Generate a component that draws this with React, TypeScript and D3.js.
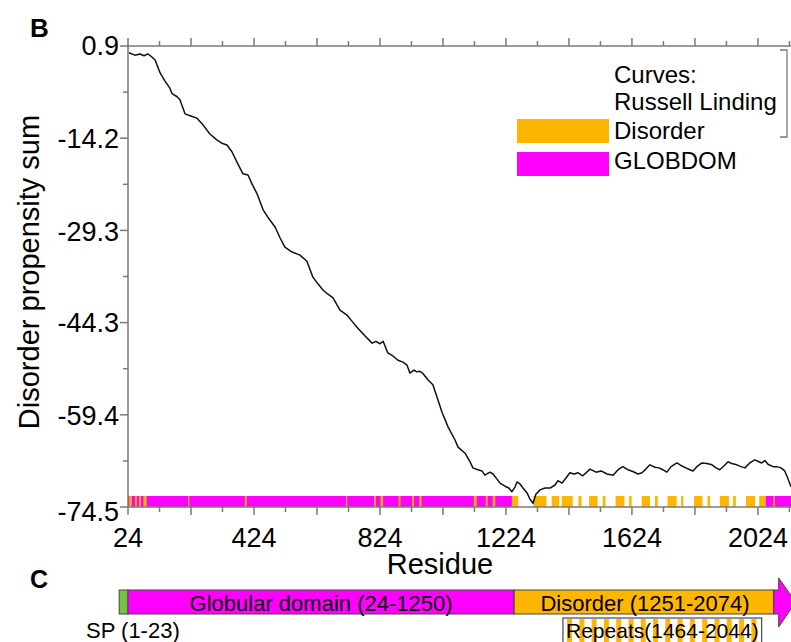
import * as d3 from "d3";
import React from "react";

// curve: residue -> Russell/Linding disorder propensity sum
const residues = [
  27, 46, 62, 75, 87, 100, 110, 126, 141, 157, 164, 180, 189, 205, 221, 243, 262, 284, 307, 322,
  338, 354, 370, 389, 405, 418, 434, 453, 468, 491, 507, 522, 545, 570, 592, 611, 627, 643, 659, 675,
  697, 719, 735, 751, 776, 799, 811, 824, 834, 849, 865, 881, 897, 910, 919, 932, 941, 951, 961, 976,
  992, 1005, 1021, 1040, 1062, 1072, 1094, 1110, 1119, 1135, 1148, 1157, 1173, 1183, 1195, 1205, 1221, 1233, 1243, 1253,
  1259, 1268, 1278, 1291, 1300, 1310, 1319, 1332, 1348, 1364, 1380, 1389, 1402, 1414, 1427, 1440, 1453, 1468, 1491, 1510,
  1526, 1545, 1564, 1580, 1595, 1611, 1627, 1643, 1656, 1668, 1681, 1697, 1710, 1722, 1735, 1748, 1767, 1783, 1795, 1808,
  1818, 1830, 1846, 1862, 1878, 1891, 1903, 1916, 1929, 1941, 1957, 1970, 1983, 1998, 2014, 2027, 2036, 2046, 2056, 2072,
  2084, 2097, 2109, 2119, 2129,
];
const propensity = [
  -0.2, -0.6, -0.4, -0.7, -0.4, -0.9, -1.4, -3.5, -4.8, -6.0, -6.9, -7.4, -7.9, -10.2, -10.5, -10.9, -12.0, -13.5, -14.5, -15.0,
  -15.3, -16.4, -18.1, -20.0, -20.2, -21.7, -23.3, -25.9, -27.1, -28.7, -30.5, -32.0, -32.8, -33.3, -34.3, -36.9, -38.0, -39.0, -39.7, -40.3,
  -42.3, -43.1, -44.1, -45.1, -46.5, -47.7, -47.4, -47.8, -47.4, -49.3, -49.8, -50.5, -50.8, -51.3, -52.6, -52.1, -52.4, -52.3, -52.7, -53.7,
  -54.5, -56.5, -59.0, -61.4, -63.5, -64.7, -65.7, -67.1, -68.1, -68.4, -68.6, -69.3, -68.8, -69.1, -69.9, -70.6, -71.1, -71.4, -72.0, -71.2,
  -70.4, -70.7, -71.4, -72.2, -73.2, -73.9, -72.4, -71.7, -71.4, -71.4, -70.9, -70.2, -70.6, -69.8, -68.9, -69.1, -68.9, -69.4, -68.3, -68.8,
  -68.6, -69.1, -69.3, -68.4, -67.9, -68.4, -68.7, -69.1, -68.9, -68.3, -67.6, -68.0, -68.1, -68.4, -68.8, -67.9, -67.3, -67.8, -68.1, -68.4,
  -68.6, -67.9, -67.3, -67.4, -67.6, -68.1, -68.4, -67.8, -67.1, -67.4, -67.6, -67.9, -68.1, -67.3, -66.8, -67.1, -67.3, -66.9, -67.5, -67.9,
  -67.9, -68.1, -68.6, -69.8, -71.2,
];

// bottom track
const globdomSegments = [
  [24, 1243],
  [2048, 2129],
];
const disorderSegments = [
  [28, 36], [46, 52], [59, 65], [73, 83], [215, 218], [395, 401], [716, 720], [805, 811], [826, 834], [883, 889],
  [926, 932], [949, 956], [1122, 1131], [1160, 1166], [1182, 1190], [1243, 1263], [1311, 1353], [1369, 1393], [1401, 1436], [1454, 1464],
  [1488, 1515], [1531, 1540], [1572, 1600], [1615, 1623], [1655, 1681], [1697, 1706], [1737, 1766], [1780, 1787], [1821, 1848], [1864, 1872],
  [1903, 1932], [1945, 1954], [1986, 2015], [2028, 2048], [2073, 2078],
];

const yTickLabels = ["0.9", "-14.2", "-29.3", "-44.3", "-59.4", "-74.5"];
const xTickLabels = [24, 424, 824, 1224, 1624, 2024];
const legendCurves = ["Curves:", "Russell Linding"];
const legendBars = [
  { name: "Disorder", color: "#FFB600" },
  { name: "GLOBDOM", color: "#FF00FF" },
];

// panel C domains
const domainNames = ["SP (1-23)", "Globular domain (24-1250)", "Disorder (1251-2074)"];
const domainStarts = [-4, 24, 1250];
const domainEnds = [24, 1250, 2074];
const domainColors = ["#78C043", "#FF00FF", "#FFB600"];
const repeatsBox = [1405, 2036];

const ORANGE = "#FFB600";
const MAGENTA = "#FF00FF";
const AXIS = "#7a7a7a";
const FONT = "'Liberation Sans', Arial, Helvetica, sans-serif";

export default function App() {
  const x = d3.scaleLinear().domain([24, 2129]).range([128, 791]);
  const y = d3.scaleLinear().domain([-74.5, 0.9]).range([507, 46]);

  const line = d3
    .line<number>()
    .x((d, i) => x(residues[i]))
    .y((d) => y(d));

  const yTicks = d3.range(11).map((i) => -74.5 + (i * 75.4) / 10);
  const xTicks = d3.range(24, 2129, 100);

  const trackTop = 496;
  const trackBottom = 507;

  const barTop = 590;
  const barBottom = 614;
  const arrowStart = x(2074);

  // repeat stripes inside the repeats box
  const stripes = d3.range(1418, 2030, 39);

  return (
    <svg
      width={791}
      height={642}
      style={{ position: "absolute", left: 0, top: 0, background: "#fff" }}
      fontFamily={FONT}
    >
      <rect width={791} height={642} fill="#fff" />

      {/* panel letters */}
      <text x={30} y={37} fontSize={26} fontWeight="bold">B</text>
      <text x={30} y={588} fontSize={25} fontWeight="bold">C</text>

      {/* bottom track */}
      <g>
        {globdomSegments.map(([s, e], i) => (
          <rect key={"g" + i} x={x(s)} y={trackTop} width={x(e) - x(s)} height={trackBottom - trackTop} fill={MAGENTA} />
        ))}
        {disorderSegments.map(([s, e], i) => (
          <rect key={"d" + i} x={x(s)} y={trackTop} width={Math.max(1.2, x(e) - x(s))} height={trackBottom - trackTop} fill={ORANGE} />
        ))}
      </g>

      {/* curve */}
      <path d={line(propensity) || ""} fill="none" stroke="#111" strokeWidth={1.5} strokeLinejoin="round" />

      {/* axes */}
      <g stroke={AXIS} strokeWidth={1.5}>
        <line x1={128} x2={128} y1={44} y2={507} />
        <line x1={128} x2={791} y1={46} y2={46} />
        <line x1={128} x2={791} y1={507} y2={507} />
        {xTicks.map((t) => {
          const len = (t - 24) % 200 === 0 ? 8 : 5;
          return (
            <g key={t}>
              <line x1={x(t)} x2={x(t)} y1={46} y2={46 - len} />
              <line x1={x(t)} x2={x(t)} y1={507} y2={507 + len} />
            </g>
          );
        })}
        {yTicks.map((t, i) => (
          <line key={i} x1={i % 2 === 0 ? 120 : 123} x2={128} y1={y(t)} y2={y(t)} />
        ))}
        {/* legend bracket */}
        <polyline points="780,50 787,50 787,137 780,137" fill="none" strokeWidth={1.3} />
      </g>

      {/* tick labels */}
      <g fontSize={27} fill="#000">
        {yTickLabels.map((lab) => (
          <text key={lab} x={119} y={y(+lab)} dy={i2dy(lab)} textAnchor="end">
            {lab}
          </text>
        ))}
        {xTickLabels.map((t) => (
          <text key={t} x={x(t)} y={547} textAnchor="middle">
            {t}
          </text>
        ))}
      </g>

      {/* axis titles */}
      <text x={440} y={574} fontSize={29} textAnchor="middle">Residue</text>
      <text transform="translate(39,272) rotate(-90)" fontSize={29} textAnchor="middle">
        Disorder propensity sum
      </text>

      {/* legend */}
      <g fontSize={24}>
        {legendCurves.map((t, i) => (
          <text key={t} x={614} y={83 + i * 27}>{t}</text>
        ))}
        {legendBars.map((b, i) => (
          <g key={b.name}>
            <rect x={517} y={119 + i * 33} width={92} height={24} fill={b.color} />
            <text x={614} y={139 + i * 30}>{b.name}</text>
          </g>
        ))}
      </g>

      {/* panel C */}
      <g>
        {domainStarts.map((s, i) => (
          <rect
            key={i}
            x={x(s)}
            y={barTop}
            width={x(domainEnds[i]) - x(s)}
            height={barBottom - barTop}
            fill={domainColors[i]}
            stroke="#444"
            strokeWidth={1}
          />
        ))}
        <path
          d={`M${arrowStart},${barTop} H${arrowStart + 5} V578 L${arrowStart + 22},602 L${arrowStart + 5},627 V${barBottom} H${arrowStart} Z`}
          fill={MAGENTA}
          stroke="#444"
          strokeWidth={1}
        />
        <text x={(x(24) + x(1250)) / 2} y={611} fontSize={22} textAnchor="middle">{domainNames[1]}</text>
        <text x={645} y={611} fontSize={22} textAnchor="middle">{domainNames[2]}</text>
        <text x={86} y={638} fontSize={22}>{domainNames[0]}</text>

        <rect x={x(repeatsBox[0])} y={618} width={x(repeatsBox[1]) - x(repeatsBox[0])} height={30} fill="#fff" stroke="#222" strokeWidth={1} />
        {stripes.map((s) => (
          <rect key={s} x={x(s)} y={619} width={5} height={23} fill={ORANGE} />
        ))}
        <text x={(x(repeatsBox[0]) + x(repeatsBox[1])) / 2} y={638} fontSize={21} textAnchor="middle">
          Repeats(1464-2044)
        </text>
      </g>
    </svg>
  );
}

function i2dy(lab: string) {
  if (lab === "0.9") return 9;
  if (lab === "-74.5") return 14;
  return 10;
}
